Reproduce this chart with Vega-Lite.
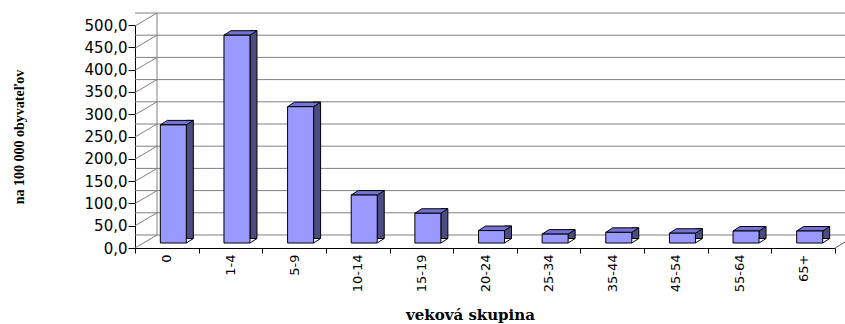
{
  "$schema": "https://vega.github.io/schema/vega-lite/v6.json",
  "width": 700,
  "height": 235,
  "autosize": {"type": "none"},
  "padding": {"left": 135, "top": 13, "right": 10, "bottom": 76},
  "background": "white",
  "config": {"view": {"stroke": null}},
  "datasets": {
    "vyskyt": [
      {"skupina": "0", "hodnota": 266},
      {"skupina": "1-4", "hodnota": 468},
      {"skupina": "5-9", "hodnota": 307},
      {"skupina": "10-14", "hodnota": 108},
      {"skupina": "15-19", "hodnota": 67},
      {"skupina": "20-24", "hodnota": 28},
      {"skupina": "25-34", "hodnota": 20},
      {"skupina": "35-44", "hodnota": 24},
      {"skupina": "45-54", "hodnota": 22},
      {"skupina": "55-64", "hodnota": 27},
      {"skupina": "65+", "hodnota": 27}
    ],
    "mriezka": [
      {"v": 0}, {"v": 50}, {"v": 100}, {"v": 150}, {"v": 200}, {"v": 250},
      {"v": 300}, {"v": 350}, {"v": 400}, {"v": 450}, {"v": 500}
    ]
  },
  "resolve": {"scale": {"y": "independent"}},
  "layer": [
    {
      "description": "back wall gridlines",
      "data": {"name": "mriezka"},
      "mark": {"type": "rule", "color": "#808080", "strokeWidth": 1, "xOffset": 22, "x2Offset": 10},
      "encoding": {
        "y": {"field": "v", "type": "quantitative", "scale": {"domain": [0, 500], "range": [222, 0]}, "axis": null}
      }
    },
    {
      "description": "side wall gridlines running from the front axis to the back wall",
      "data": {"name": "mriezka"},
      "mark": {"type": "rule", "color": "#808080", "strokeWidth": 1, "yOffset": 13},
      "encoding": {
        "x": {"value": 0},
        "x2": {"value": 22},
        "y": {"field": "v", "type": "quantitative", "scale": {"domain": [0, 500], "range": [222, 0]}, "axis": null},
        "y2": {"field": "v"}
      }
    },
    {
      "description": "back wall corner edge",
      "data": {"values": [{}]},
      "mark": {"type": "rule", "color": "#808080", "strokeWidth": 1},
      "encoding": {
        "x": {"value": 22},
        "y": {"datum": 0, "type": "quantitative", "scale": {"domain": [0, 500], "range": [222, 0]}, "axis": null},
        "y2": {"datum": 500}
      }
    },
    {
      "description": "floor right edge",
      "data": {"values": [{}]},
      "mark": {"type": "rule", "color": "#555555", "strokeWidth": 1, "yOffset": 13, "y2Offset": 7},
      "encoding": {
        "x": {"value": 700},
        "x2": {"value": 710},
        "y": {"datum": 0, "type": "quantitative", "scale": {"domain": [0, 500], "range": [222, 0]}, "axis": null},
        "y2": {"datum": 0}
      }
    },
    {
      "description": "front value axis",
      "data": {"name": "mriezka"},
      "mark": {"type": "rule", "opacity": 0},
      "encoding": {
        "y": {
          "field": "v",
          "type": "quantitative",
          "scale": {"domain": [0, 500], "range": [235, 12]},
          "axis": {
            "orient": "left",
            "values": [0, 50, 100, 150, 200, 250, 300, 350, 400, 450, 500],
            "labelExpr": "replace(format(datum.value, '.1f'), '.', ',')",
            "grid": false,
            "domainColor": "black",
            "tickColor": "black",
            "tickSize": 7,
            "labelPadding": 1,
            "labelFont": "DejaVu Sans",
            "labelFontSize": 15,
            "labelColor": "black",
            "title": "na 100 000 obyvateľov",
            "titleFont": "Liberation Serif",
            "titleFontSize": 14,
            "titleFontWeight": "bold",
            "titleColor": "black",
            "titlePadding": 58
          }
        }
      }
    },
    {
      "description": "3-D style columns",
      "data": {"name": "vyskyt"},
      "encoding": {
        "x": {
          "field": "skupina",
          "type": "nominal",
          "sort": null,
          "scale": {"paddingInner": 0, "paddingOuter": 0},
          "axis": {
            "title": "veková skupina",
            "labelAngle": -90,
            "tickBand": "extent",
            "tickSize": 5,
            "domainColor": "black",
            "tickColor": "black",
            "labelPadding": 1,
            "labelFont": "DejaVu Sans",
            "labelFontSize": 13,
            "labelColor": "black",
            "titleFont": "DejaVu Serif",
            "titleFontSize": 15,
            "titleFontWeight": "bold",
            "titleColor": "black",
            "titlePadding": 16,
            "titleX": 335,
            "grid": false
          }
        },
        "y": {"field": "hodnota", "type": "quantitative", "scale": {"domain": [0, 500], "range": [230, 8]}, "axis": null}
      },
      "layer": [
        {
          "mark": {"type": "bar", "width": 7, "xOffset": 23, "yOffset": -4.5, "y2Offset": 0, "fill": "#4B4B82", "stroke": "black", "strokeWidth": 1}
        },
        {
          "mark": {"type": "point", "shape": "M-13,0L13,0L20,-4.5L-6,-4.5Z", "size": 4, "xOffset": 6.5, "filled": true, "fill": "#7373D6", "stroke": "black", "strokeWidth": 1, "opacity": 1}
        },
        {
          "mark": {"type": "bar", "width": 26, "xOffset": 6.5, "fill": "#9999FF", "stroke": "black", "strokeWidth": 1}
        },
        {
          "mark": {"type": "point", "shape": "M13.6,0.3L20.6,-4.2L22,-4.2L22,2L13.6,2Z", "size": 4, "xOffset": 6.5, "filled": true, "fill": "white", "strokeWidth": 0, "opacity": 1},
          "encoding": {"y": {"datum": 0, "type": "quantitative"}}
        },
        {
          "mark": {"type": "point", "shape": "M13,0L20,-4.5", "size": 4, "xOffset": 6.5, "filled": false, "stroke": "black", "strokeWidth": 1, "opacity": 1},
          "encoding": {"y": {"datum": 0, "type": "quantitative"}}
        }
      ]
    }
  ]
}
